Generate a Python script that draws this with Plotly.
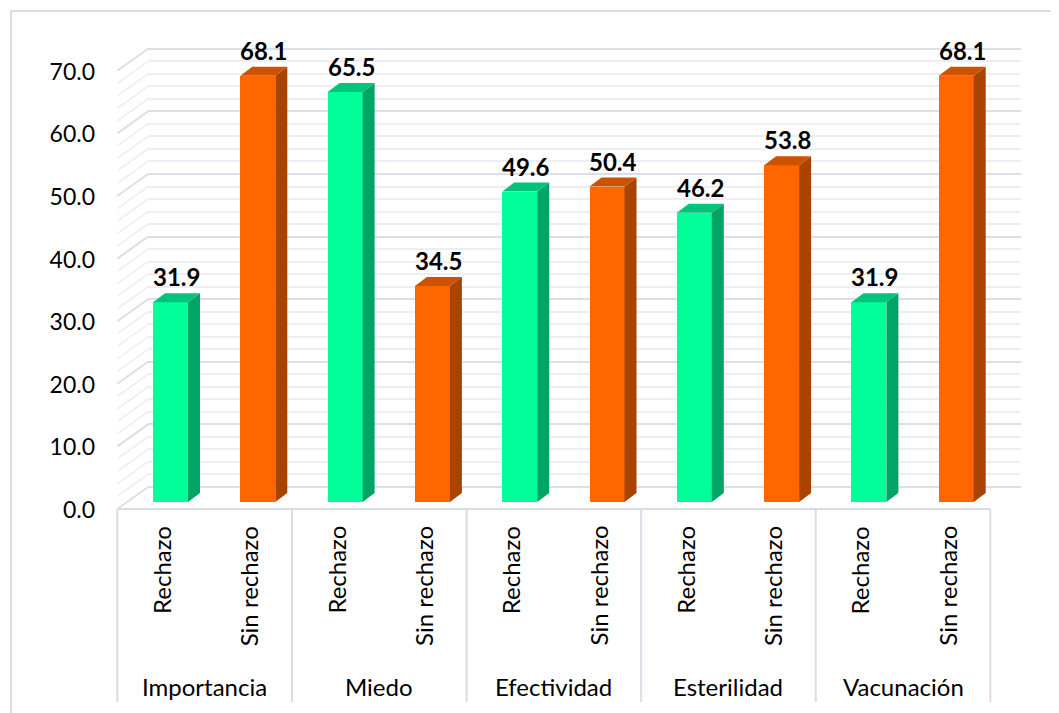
import plotly.graph_objects as go

# data
categories = ["Importancia", "Miedo", "Efectividad", "Esterilidad", "Vacunación"]
series_names = ["Rechazo", "Sin rechazo"]
rechazo = [31.9, 65.5, 49.6, 46.2, 31.9]
sin_rechazo = [68.1, 34.5, 50.4, 53.8, 68.1]
y_ticks = [0, 10, 20, 30, 40, 50, 60, 70]

W, H = 1059, 713
OFF = 8  # page body margin
L, T = 148 - OFF, 30 - OFF
R = W - (1021 - OFF)
B = H - (510 - OFF)
PX_X = 87.3          # pixels per bar slot
PX_Y = 6.26          # pixels per value unit
plot_w, plot_h = W - L - R, H - T - B
BOTTOM = 510         # page y of plot bottom

# axis ranges (bar front plane)
x_min = -(170.5 - 148) / PX_X
x_rng = [x_min, x_min + plot_w / PX_X]
y_min = -(BOTTOM - 502) / PX_Y
y_rng = [y_min, y_min + plot_h / PX_Y]
# back wall plane for gridlines
y2_min = -(BOTTOM - 487) / PX_Y
y2_rng = [y2_min, y2_min + plot_h / PX_Y]

# perspective offsets (in data units)
FX, FY = -9.5 / PX_X, -7 / PX_Y      # front edge plane
DX, DY = 12 / PX_X, 9 / PX_Y         # bar depth
BAR_W = 35 / PX_X

front_colors = ["#00FF99", "#FF6600"]
side_colors = ["#00A566", "#A84300"]
top_colors = ["#00C47C", "#CC5200"]
grid_major = "#dcdfe8"
grid_minor = "#eceef3"
line_col = "#d9dce4"
font_fam = "Lato, 'Open Sans', sans-serif"


def px(xd):
    return (xd - x_rng[0]) / (x_rng[1] - x_rng[0])


def py(yd):
    return (yd - y_rng[0]) / (y_rng[1] - y_rng[0])


def page_y(p):
    return (BOTTOM - p) / plot_h


fig = go.Figure()

values = [rechazo, sin_rechazo]
for s, vals in enumerate(values):
    xs = [2 * g + s for g in range(len(categories))]
    fig.add_trace(go.Bar(
        x=xs, y=vals, width=BAR_W, marker_color=front_colors[s],
        marker_line_width=0, name=series_names[s], showlegend=False,
    ))
    for x, v in zip(xs, vals):
        xl, xr = x - BAR_W / 2, x + BAR_W / 2
        # side face
        fig.add_trace(go.Scatter(
            x=[xr, xr + DX, xr + DX, xr, xr], y=[0, DY, v + DY, v, 0],
            fill="toself", fillcolor=side_colors[s], mode="lines",
            line=dict(width=0, color=side_colors[s]), showlegend=False, hoverinfo="skip",
        ))
        # top face
        fig.add_trace(go.Scatter(
            x=[xl, xl + DX, xr + DX, xr, xl], y=[v, v + DY, v + DY, v, v],
            fill="toself", fillcolor=top_colors[s], mode="lines",
            line=dict(width=0, color=top_colors[s]), showlegend=False, hoverinfo="skip",
        ))
        fig.add_annotation(
            x=x + DX / 2, y=v + DY, text=f"<b>{v:.1f}</b>", showarrow=False,
            yanchor="bottom", yshift=0, font=dict(size=24, color="black", family=font_fam),
        )

shapes = []
# left wall diagonals
for v in range(0, 71, 2):
    shapes.append(dict(
        type="line", xref="paper", yref="paper", layer="below",
        x0=px(-0.5 + FX), y0=py(v + FY), x1=0, y1=(v - y2_rng[0]) / (y2_rng[1] - y2_rng[0]),
        line=dict(color=grid_major if v % 10 == 0 else grid_minor, width=2 if v % 10 == 0 else 1.5),
    ))
# floor front edge
shapes.append(dict(
    type="line", xref="paper", yref="paper", x0=px(-0.5 + FX), x1=px(2 * len(categories) - 0.5 + FX),
    y0=py(FY), y1=py(FY), line=dict(color=line_col, width=2),
))
# group dividers
for k in range(len(categories) + 1):
    xk = px(2 * k - 0.5 + FX)
    shapes.append(dict(
        type="line", xref="paper", yref="paper", x0=xk, x1=xk,
        y0=py(FY), y1=page_y(702), line=dict(color=line_col, width=2),
    ))
# chart border
shapes.append(dict(
    type="rect", xref="paper", yref="paper", layer="below",
    x0=(11 - 148) / plot_w, y0=-2, x1=2, y1=page_y(11),
    line=dict(color="#d9dce4", width=2), fillcolor="rgba(0,0,0,0)",
))

# category axis labels
for g, cat in enumerate(categories):
    for s, name in enumerate(series_names):
        fig.add_annotation(
            x=px(2 * g + s + FX), y=page_y(524), xref="paper", yref="paper",
            text=name, textangle=-90, showarrow=False, xanchor="center", yanchor="top",
            font=dict(size=24, color="black", family=font_fam),
        )
    fig.add_annotation(
        x=px(2 * g + 0.5 + FX), y=page_y(686), xref="paper", yref="paper",
        text=cat, showarrow=False, xanchor="center", yanchor="middle",
        font=dict(size=24, color="black", family=font_fam),
    )

fig.update_layout(
    width=W, height=H, margin=dict(l=L, r=R, t=T, b=B),
    paper_bgcolor="white", plot_bgcolor="rgba(0,0,0,0)",
    shapes=shapes, bargap=0,
    xaxis=dict(range=x_rng, showgrid=False, zeroline=False, showticklabels=False, fixedrange=True),
    yaxis=dict(
        range=y_rng, showgrid=False, zeroline=False, tickvals=y_ticks,
        ticktext=[f"{t:.1f}" for t in y_ticks], ticklabelshift=8, ticklabelstandoff=52,
        tickfont=dict(size=23, color="black", family=font_fam),
    ),
    yaxis2=dict(
        range=y2_rng, overlaying="y", side="left", showticklabels=False, zeroline=False,
        tickvals=y_ticks, showgrid=True, gridcolor=grid_major, gridwidth=2,
        minor=dict(tickvals=[v for v in range(2, 70, 2) if v % 10], showgrid=True,
                   gridcolor=grid_minor, gridwidth=1.5),
    ),
)
# dummy trace to activate the back wall axis
fig.add_trace(go.Scatter(x=[x_rng[0]], y=[0], yaxis="y2", mode="markers",
                         marker=dict(opacity=0), showlegend=False, hoverinfo="skip"))

fig.write_html("out.html")
